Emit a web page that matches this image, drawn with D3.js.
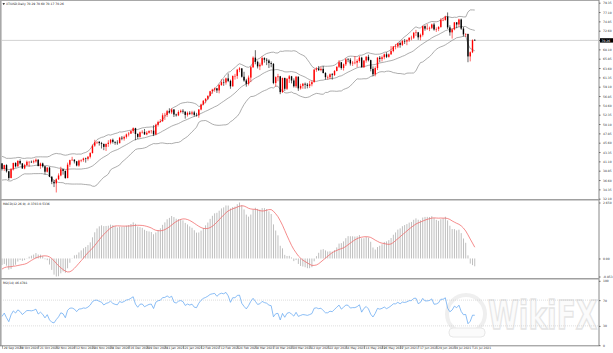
<!DOCTYPE html>
<html>
<head>
<meta charset="utf-8">
<script src="https://cdn.jsdelivr.net/npm/d3@7"></script>
<style>
  body { margin: 0; background: #fff; }
  svg { display: block; }
  text { font-family: "DejaVu Sans", Arial, sans-serif; }
</style>
</head>
<body>
<div id="chart"></div>
<script>
// labels on the time axis, one every 8 bars
const dateLabels = ["29 Sep 2020", "9 Oct 2020", "21 Oct 2020", "2 Nov 2020", "12 Nov 2020", "24 Nov 2020",
  "4 Dec 2020", "16 Dec 2020", "29 Dec 2020", "11 Jan 2021", "21 Jan 2021", "2 Feb 2021", "12 Feb 2021",
  "24 Feb 2021", "8 Mar 2021", "18 Mar 2021", "30 Mar 2021", "12 Apr 2021", "22 Apr 2021", "4 May 2021",
  "14 May 2021", "26 May 2021", "7 Jun 2021", "17 Jun 2021", "29 Jun 2021", "9 Jul 2021", "21 Jul 2021"];

const priceTicks = [79.35, 77.10, 74.85, 72.60, 70.35, 68.10, 65.85, 63.60, 61.35, 59.10, 56.85,
  54.60, 52.35, 50.10, 47.85, 45.60, 43.35, 41.10, 38.85, 36.60, 34.35, 32.10];

const symbolTitle = "XTIUSD,Daily  70.29 70.60 70.17 70.26";
const bidPrice = 70.26;

// closes before the first visible bar, only used to warm up the indicators
const warmupClose = [41.6, 41.0, 41.3, 39.9, 40.3, 41.0, 41.7, 42.2, 41.9, 41.2, 41.9, 41.6, 42.7, 42.2, 42.0,
  42.9, 42.9, 42.9, 42.8, 42.3, 42.6, 43.4, 43.4, 43.0, 43.0, 42.6, 42.8, 41.5, 41.4, 39.8, 39.3, 36.8,
  38.1, 37.3, 37.3, 37.3, 38.3, 40.2, 41.0, 41.1, 39.3, 39.8, 39.9, 40.3, 40.3, 40.6];

const open = [40.6, 39.3, 40.2, 38.7, 37.1, 39.2, 40.7, 39.9, 41.2, 40.6,
  39.4, 40.2, 41.0, 41.0, 40.9, 41.1, 41.5, 40.0, 40.6, 39.9,
  38.6, 39.6, 37.4, 36.2, 35.8, 36.8, 37.7, 39.2, 38.8, 37.1,
  40.3, 41.4, 41.5, 41.1, 40.1, 41.3, 41.4, 41.8, 41.7, 42.2,
  43.1, 44.9, 45.7, 45.8, 45.5, 45.3, 44.6, 45.3, 45.6, 46.3,
  45.8, 45.6, 45.5, 46.8, 46.6, 47.0, 47.6, 47.8, 48.4, 49.1,
  47.7, 47.0, 48.1, 48.2, 47.6, 48.0, 48.4, 48.5, 47.6, 49.9,
  50.6, 50.8, 52.2, 52.3, 53.2, 52.9, 53.6, 52.4, 52.2, 53.0,
  53.3, 53.1, 52.3, 52.8, 52.6, 52.9, 52.3, 52.2, 53.6, 54.8,
  55.7, 56.2, 56.9, 58.0, 58.4, 58.7, 58.2, 59.5, 60.2, 60.1,
  61.1, 60.5, 59.2, 61.7, 61.7, 63.2, 63.5, 61.5, 60.6, 59.8,
  61.3, 63.8, 66.1, 65.1, 64.0, 64.4, 66.0, 65.6, 65.4, 64.8,
  64.6, 60.0, 61.4, 61.6, 57.8, 61.2, 58.6, 61.0, 61.6, 60.6,
  59.2, 61.5, 58.7, 59.3, 59.8, 59.6, 59.3, 59.7, 60.2, 63.2,
  63.5, 63.1, 63.4, 62.4, 61.4, 61.4, 62.1, 61.9, 62.9, 63.9,
  65.0, 63.6, 64.5, 65.7, 65.6, 64.7, 64.9, 64.9, 65.3, 66.1,
  63.8, 65.4, 66.3, 65.5, 63.4, 62.1, 63.6, 66.1, 65.8, 66.2,
  66.9, 66.3, 66.9, 67.7, 68.8, 68.8, 69.6, 69.2, 70.1, 70.0,
  70.3, 70.9, 70.9, 72.1, 72.2, 71.0, 71.6, 73.7, 73.1, 73.1,
  73.3, 74.1, 72.9, 73.0, 73.5, 75.2, 75.2, 76.0, 73.4, 72.2,
  72.9, 74.6, 74.1, 75.3, 73.1, 71.7, 71.8, 66.4, 67.4, 70.29];

const high = [40.7, 40.3, 40.4, 38.8, 39.5, 40.8, 40.9, 41.4, 41.6, 40.7,
  40.5, 41.3, 41.1, 41.3, 41.5, 41.8, 41.6, 40.8, 40.8, 40.0,
  39.7, 39.8, 37.5, 36.6, 37.0, 38.2, 39.8, 39.3, 38.9, 40.8,
  41.5, 42.2, 41.6, 41.2, 41.5, 41.6, 42.0, 42.0, 42.4, 43.3,
  45.2, 46.3, 45.9, 46.0, 45.8, 45.4, 45.4, 46.2, 46.5, 46.6,
  45.9, 46.2, 47.0, 47.2, 47.3, 47.8, 48.2, 48.6, 49.3, 49.2,
  47.9, 48.3, 48.6, 48.9, 48.4, 48.6, 48.6, 49.8, 50.2, 50.9,
  51.3, 52.7, 52.8, 53.5, 53.9, 53.9, 53.7, 52.6, 53.4, 53.6,
  53.7, 53.1, 53.1, 53.2, 53.3, 53.3, 52.8, 53.7, 55.0, 55.9,
  56.3, 57.0, 58.1, 58.6, 58.9, 58.8, 59.8, 60.9, 60.9, 61.3,
  62.3, 60.8, 61.8, 62.2, 63.4, 63.8, 63.6, 62.7, 61.0, 61.8,
  64.1, 66.4, 67.9, 65.4, 64.9, 66.4, 66.2, 66.0, 65.7, 65.2,
  64.8, 61.6, 62.2, 61.7, 61.3, 61.3, 61.2, 61.9, 61.7, 61.1,
  61.7, 61.6, 59.8, 60.0, 60.1, 60.0, 60.5, 60.6, 63.4, 63.8,
  64.1, 63.9, 64.1, 62.6, 61.8, 62.3, 62.4, 63.1, 64.0, 65.5,
  65.0, 64.7, 66.0, 66.0, 66.0, 65.3, 66.5, 65.7, 66.5, 66.3,
  65.5, 66.5, 66.8, 65.6, 64.0, 64.0, 66.2, 66.5, 66.6, 67.1,
  67.4, 67.1, 68.9, 68.9, 69.4, 69.7, 70.0, 70.4, 70.6, 70.5,
  71.0, 71.4, 72.3, 72.8, 72.3, 71.9, 73.8, 73.9, 74.2, 73.6,
  74.3, 74.5, 73.4, 73.7, 75.6, 75.7, 76.2, 77.0, 73.9, 73.2,
  74.7, 74.7, 75.5, 75.5, 73.5, 72.0, 71.9, 67.6, 70.5, 70.60];

const low = [38.9, 38.8, 38.4, 36.6, 37.0, 38.9, 39.6, 39.8, 40.3, 39.3,
  39.2, 40.0, 39.8, 40.7, 40.6, 40.8, 39.9, 39.3, 39.6, 38.0,
  38.4, 37.3, 35.6, 34.9, 33.6, 36.6, 37.5, 37.9, 36.9, 37.0,
  39.8, 41.2, 40.6, 39.9, 39.8, 40.9, 41.0, 40.8, 41.3, 41.8,
  43.0, 44.6, 45.3, 44.9, 44.2, 43.8, 43.6, 44.6, 45.2, 45.4,
  45.1, 45.1, 45.4, 46.2, 46.1, 46.6, 47.1, 47.7, 47.9, 46.2,
  46.5, 46.8, 47.8, 47.5, 47.4, 47.8, 47.8, 47.2, 47.4, 49.5,
  50.4, 50.6, 51.1, 51.8, 52.6, 52.5, 51.8, 51.9, 52.0, 52.7,
  52.6, 51.4, 51.9, 52.3, 52.2, 51.9, 51.9, 51.6, 53.4, 54.6,
  55.1, 55.9, 56.8, 57.4, 57.9, 57.6, 57.5, 59.3, 59.3, 59.6,
  60.2, 58.6, 59.1, 60.8, 61.0, 62.6, 61.3, 60.3, 59.1, 59.4,
  60.2, 63.6, 64.5, 63.5, 63.1, 64.1, 64.9, 64.3, 63.6, 63.8,
  59.7, 59.1, 60.4, 57.3, 57.6, 58.1, 58.3, 60.0, 59.9, 58.9,
  58.8, 58.1, 58.4, 58.6, 58.6, 58.7, 58.8, 59.2, 60.1, 62.7,
  62.9, 62.8, 62.3, 60.8, 60.8, 60.9, 60.8, 61.7, 62.8, 63.6,
  63.2, 63.0, 64.1, 65.0, 64.2, 64.1, 64.5, 63.8, 64.9, 63.7,
  63.6, 64.9, 65.2, 62.8, 61.6, 61.6, 63.1, 65.0, 65.2, 65.7,
  66.0, 66.1, 66.8, 67.4, 68.1, 68.4, 68.5, 68.9, 69.4, 69.1,
  69.9, 70.3, 70.6, 71.3, 70.4, 70.3, 71.2, 72.6, 72.8, 72.5,
  73.0, 72.6, 72.3, 72.5, 73.3, 74.9, 75.0, 73.0, 71.4, 70.7,
  72.7, 73.2, 73.5, 72.8, 71.2, 71.1, 65.0, 65.2, 67.2, 70.17];

const close = [39.3, 40.2, 38.7, 37.1, 39.2, 40.7, 39.9, 41.2, 40.6, 39.4,
  40.2, 41.0, 41.0, 40.9, 41.1, 41.5, 40.0, 40.6, 39.9, 38.6,
  39.6, 37.4, 36.2, 35.8, 36.8, 37.7, 39.2, 38.8, 37.1, 40.3,
  41.4, 41.5, 41.1, 40.1, 41.3, 41.4, 41.8, 41.7, 42.2, 43.1,
  44.9, 45.7, 45.8, 45.5, 45.3, 44.6, 45.3, 45.6, 46.3, 45.8,
  45.6, 45.5, 46.8, 46.6, 47.0, 47.6, 47.8, 48.4, 49.1, 47.7,
  47.0, 48.1, 48.2, 47.6, 48.0, 48.4, 48.5, 47.6, 49.9, 50.6,
  50.8, 52.2, 52.3, 53.2, 52.9, 53.6, 52.4, 52.2, 53.0, 53.3,
  53.1, 52.3, 52.8, 52.6, 52.9, 52.3, 52.2, 53.6, 54.8, 55.7,
  56.2, 56.9, 58.0, 58.4, 58.7, 58.2, 59.5, 60.2, 60.1, 61.1,
  60.5, 59.2, 61.7, 61.7, 63.2, 63.5, 61.5, 60.6, 59.8, 61.3,
  63.8, 66.1, 65.1, 64.0, 64.4, 66.0, 65.6, 65.4, 64.8, 64.6,
  60.0, 61.4, 61.6, 57.8, 61.2, 58.6, 61.0, 61.6, 60.6, 59.2,
  61.5, 58.7, 59.3, 59.8, 59.6, 59.3, 59.7, 60.2, 63.2, 63.5,
  63.1, 63.4, 62.4, 61.4, 61.4, 62.1, 61.9, 62.9, 63.9, 65.0,
  63.6, 64.5, 65.7, 65.6, 64.7, 64.9, 64.9, 65.3, 66.1, 63.8,
  65.4, 66.3, 65.5, 63.4, 62.1, 63.6, 66.1, 65.8, 66.2, 66.9,
  66.3, 66.9, 67.7, 68.8, 68.8, 69.6, 69.2, 70.1, 70.0, 70.3,
  70.9, 70.9, 72.1, 72.2, 71.0, 71.6, 73.7, 73.1, 73.1, 73.3,
  74.1, 72.9, 73.0, 73.5, 75.2, 75.2, 76.0, 73.4, 72.2, 72.9,
  74.6, 74.1, 75.3, 73.1, 71.7, 71.8, 66.4, 67.4, 70.3, 70.26];

const rsiLevels = [100, 70, 30, 0];

// ---- indicators (MT4 style) ----
const allClose = warmupClose.concat(close);
const offset = warmupClose.length;

function ema(values, period) {
  const k = 2 / (period + 1);
  const out = [];
  values.forEach((v, i) => out.push(i === 0 ? v : v * k + out[i - 1] * (1 - k)));
  return out;
}

const bands = allClose.map((c, i) => {
  const win = allClose.slice(Math.max(0, i - 19), i + 1);
  const m = d3.mean(win);
  const sd = Math.sqrt(d3.mean(win, v => (v - m) * (v - m)));
  return {mid: m, up: m + 2 * sd, dn: m - 2 * sd};
}).slice(offset);

const fast = ema(allClose, 12), slow = ema(allClose, 26);
const macdAll = allClose.map((c, i) => fast[i] - slow[i]);
const signalAll = macdAll.map((v, i) => d3.mean(macdAll.slice(Math.max(0, i - 8), i + 1)));
const macdMain = macdAll.slice(offset), macdSignal = signalAll.slice(offset);

const rsiAll = [];
{
  let ag = 0, al = 0;
  for (let i = 1; i < allClose.length; i++) {
    const d = allClose[i] - allClose[i - 1];
    const g = Math.max(d, 0), l = Math.max(-d, 0);
    if (i <= 14) { ag += g / 14; al += l / 14; }
    else { ag = (ag * 13 + g) / 14; al = (al * 13 + l) / 14; }
    rsiAll[i] = al === 0 ? 100 : 100 - 100 / (1 + ag / al);
  }
}
const rsi = rsiAll.slice(offset);

// ---- layout ----
const W = 613, H = 353;
const plotRight = 599;
const svg = d3.select("#chart").append("svg").attr("width", W).attr("height", H);

const x = d3.scaleLinear().domain([0, 208]).range([2, 472.5]);
const y = d3.scaleLinear().domain([priceTicks[priceTicks.length - 1], priceTicks[0]]).range([198.7, 2.7]);

const macdMin = d3.min(macdMain.concat(macdSignal)), macdMax = d3.max(macdMain.concat(macdSignal));
const yMacd = d3.scaleLinear().domain([macdMin, macdMax]).range([276.5, 202.5]);
const yRsi = d3.scaleLinear().domain([0, 100]).range([345.2, 280.8]);

// watermark
const wm = svg.append("g").attr("opacity", 0.9);
wm.append("circle").attr("cx", 466).attr("cy", 314).attr("r", 19)
  .attr("fill", "none").attr("stroke", "#eeeeee").attr("stroke-width", 4);
wm.append("rect").attr("x", 449).attr("y", 328).attr("width", 36).attr("height", 9).attr("rx", 4)
  .attr("fill", "#fbfbfb").attr("stroke", "#e6e6e6");
wm.append("text").attr("transform", "translate(488,329) scale(1,1.4)")
  .attr("font-size", 28).attr("font-weight", "bold")
  .attr("fill", "#fbfbfb").attr("stroke", "#e2e2e2").attr("stroke-width", 1).text("WikiFX");

// frames
const frame = svg.append("g");
frame.append("line").attr("x1", 0).attr("x2", plotRight).attr("y1", 0.5).attr("y2", 0.5).attr("stroke", "#a8a8a8");
frame.append("line").attr("x1", 0.8).attr("x2", 0.8).attr("y1", 0).attr("y2", 346).attr("stroke", "#a8a8a8").attr("stroke-width", 1.6);
frame.append("line").attr("x1", plotRight).attr("x2", plotRight).attr("y1", 0).attr("y2", 346).attr("stroke", "#888");
[199.8, 278.8].forEach(v => frame.append("line").attr("x1", 0).attr("x2", plotRight)
  .attr("y1", v).attr("y2", v).attr("stroke", "#a0a0a0").attr("stroke-width", 1.6));
frame.append("line").attr("x1", 0).attr("x2", plotRight).attr("y1", 345.8).attr("y2", 345.8).attr("stroke", "#888");

// ---- main price window ----
const main = svg.append("g");
main.append("line").attr("x1", 1).attr("x2", plotRight).attr("y1", y(bidPrice)).attr("y2", y(bidPrice))
  .attr("stroke", "#c8c8c8").attr("stroke-width", 0.8);

const lineFor = key => d3.line().x((d, i) => x(i)).y(d => y(d[key]));
["up", "mid", "dn"].forEach(k => main.append("path").datum(bands)
  .attr("d", lineFor(k)).attr("fill", "none").attr("stroke", "#8a8a8a").attr("stroke-width", 0.7));

const candles = main.selectAll("g.c").data(close).join("g").attr("class", "c");
candles.each(function (c, i) {
  const g = d3.select(this);
  const col = c >= open[i] ? "#ff0000" : "#000000";
  g.append("line").attr("x1", x(i)).attr("x2", x(i)).attr("y1", y(high[i])).attr("y2", y(low[i]))
    .attr("stroke", col).attr("stroke-width", 0.6);
  const top = y(Math.max(open[i], c)), bot = y(Math.min(open[i], c));
  g.append("rect").attr("x", x(i) - 0.7).attr("width", 1.4)
    .attr("y", top).attr("height", Math.max(bot - top, 0.5)).attr("fill", col);
});

// price axis
const yAxis = svg.append("g").attr("transform", `translate(${plotRight},0)`)
  .call(d3.axisRight(y).tickValues(priceTicks).tickSize(1.5).tickFormat(d3.format(".2f")));
yAxis.select(".domain").remove();
yAxis.selectAll("text").attr("font-size", 3).attr("fill", "#333").attr("dx", -0.5);
yAxis.selectAll("line").attr("stroke", "#666");

svg.append("rect").attr("x", plotRight + 1).attr("y", y(bidPrice) - 2.2).attr("width", 13).attr("height", 4.4).attr("fill", "#000");
svg.append("text").attr("x", plotRight + 2.5).attr("y", y(bidPrice) + 1.1).attr("font-size", 3)
  .attr("fill", "#fff").text(bidPrice.toFixed(2));

// title
svg.append("path").attr("d", "M2.5,3.2 L5,3.2 L3.75,5 Z").attr("fill", "#000");
svg.append("text").attr("x", 6).attr("y", 5).attr("font-size", 3).attr("fill", "#222").text(symbolTitle);

// ---- MACD window ----
const mw = svg.append("g");
mw.selectAll("rect").data(macdMain).join("rect")
  .attr("x", (d, i) => x(i) - 0.45).attr("width", 0.9)
  .attr("y", d => Math.min(yMacd(d), yMacd(0)))
  .attr("height", d => Math.abs(yMacd(d) - yMacd(0)))
  .attr("fill", "#b8b8b8");
mw.append("path").datum(macdSignal)
  .attr("d", d3.line().x((d, i) => x(i)).y(d => yMacd(d)))
  .attr("fill", "none").attr("stroke", "#f05a5a").attr("stroke-width", 0.7);
mw.append("text").attr("x", 3).attr("y", 204.5).attr("font-size", 3).attr("fill", "#222")
  .text(`MACD(12,26,9) ${macdMain[macdMain.length - 1].toFixed(4)} ${macdSignal[macdSignal.length - 1].toFixed(4)}`);

const macdAxis = svg.append("g").attr("transform", `translate(${plotRight},0)`)
  .call(d3.axisRight(yMacd).tickValues([macdMax, 0, macdMin]).tickSize(1.5)
    .tickFormat(d => d === 0 ? "0.00" : d.toFixed(3)));
macdAxis.select(".domain").remove();
macdAxis.selectAll("text").attr("font-size", 3).attr("fill", "#333").attr("dx", -0.5);
macdAxis.selectAll("line").attr("stroke", "#666");

// ---- RSI window ----
const rw = svg.append("g");
[70, 30].forEach(v => rw.append("line").attr("x1", 1).attr("x2", plotRight)
  .attr("y1", yRsi(v)).attr("y2", yRsi(v)).attr("stroke", "#c8c8c8").attr("stroke-width", 0.6)
  .attr("stroke-dasharray", "1,1"));
rw.append("path").datum(rsi)
  .attr("d", d3.line().x((d, i) => x(i)).y(d => yRsi(d)))
  .attr("fill", "none").attr("stroke", "#5aa2f0").attr("stroke-width", 0.7);
rw.append("text").attr("x", 3).attr("y", 283.5).attr("font-size", 3).attr("fill", "#222")
  .text(`RSI(14) ${rsi[rsi.length - 1].toFixed(4)}`);

const rsiAxis = svg.append("g").attr("transform", `translate(${plotRight},0)`)
  .call(d3.axisRight(yRsi).tickValues(rsiLevels).tickSize(1.5));
rsiAxis.select(".domain").remove();
rsiAxis.selectAll("text").attr("font-size", 3).attr("fill", "#333").attr("dx", -0.5);
rsiAxis.selectAll("line").attr("stroke", "#666");

// ---- time axis ----
const tickIdx = dateLabels.map((d, k) => k * 8);
const xAxis = svg.append("g").attr("transform", "translate(0,345.8)")
  .call(d3.axisBottom(x).tickValues(tickIdx).tickSize(3).tickFormat((d, k) => dateLabels[k]));
xAxis.select(".domain").remove();
xAxis.selectAll("line").attr("stroke", "#555").attr("stroke-width", 0.5);
xAxis.selectAll("text").attr("font-size", 3).attr("fill", "#333")
  .attr("text-anchor", "start").attr("dx", 1.2).attr("y", 1.2).attr("dy", "0.71em");
</script>
</body>
</html>
